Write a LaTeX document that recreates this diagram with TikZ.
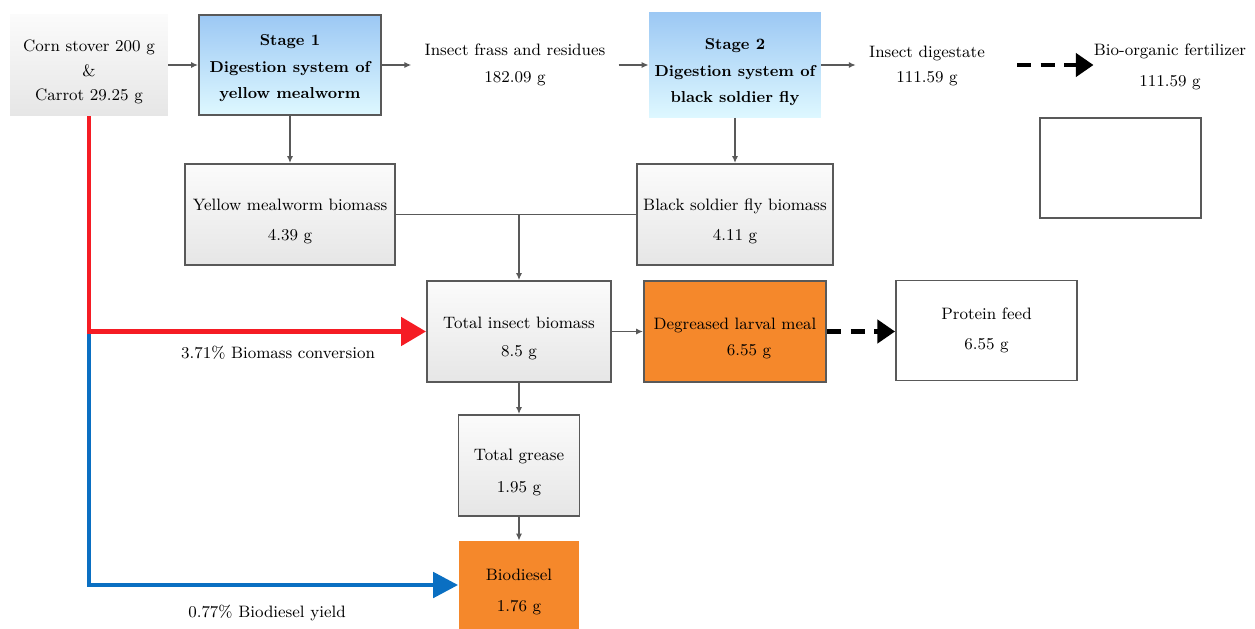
\documentclass[tikz,border=0pt]{standalone}
\usepackage{fontspec}
\usetikzlibrary{arrows.meta}
\definecolor{edgegray}{HTML}{595959}
\definecolor{graytop}{HTML}{FBFBFB}
\definecolor{graybot}{HTML}{E6E6E6}
\definecolor{bluetop}{HTML}{9CC8F4}
\definecolor{bluebot}{HTML}{DEF8FF}
\definecolor{orangefill}{HTML}{F5882B}
\definecolor{redline}{HTML}{F51C24}
\definecolor{blueline}{HTML}{0A6FC2}
\newcommand{\dnstrut}{\rule{0pt}{14.5pt}}
\newcommand{\smstrut}{\rule{0pt}{10pt}}
\begin{document}
\begin{tikzpicture}[x=0.02cm,y=-0.02cm,
  txt/.style={align=center,font=\fontsize{9.4}{17}\selectfont,inner sep=0pt},
  graybox/.style={txt,draw=edgegray,line width=1.1pt,top color=graytop,bottom color=graybot,minimum height=2.02cm},
  stagebox/.style={txt,top color=bluetop,bottom color=bluebot,minimum height=2cm,font=\fontsize{9}{15}\selectfont\bfseries},
  orangebox/.style={txt,fill=orangefill,minimum height=2.02cm},
  whitebox/.style={txt,draw=edgegray,line width=1.1pt,fill=white,minimum height=2cm},
  label/.style={txt,inner xsep=0.26cm},
  thin/.style={draw=edgegray,line width=0.9pt,-{Latex[length=4pt,width=3.5pt]}},
  thinline/.style={draw=edgegray,line width=0.9pt},
  bigdash/.style={line width=2.8pt,dash pattern=on 8pt off 5.5pt,-{Triangle[length=10pt,width=13pt]}},
  redarrow/.style={draw=redline,line width=2.8pt,-{Triangle[length=0.5cm,width=0.56cm]},color=redline},
  bluearrow/.style={draw=blueline,line width=2.8pt,-{Triangle[length=0.5cm,width=0.5cm]},color=blueline}
]
\useasboundingbox (0,0) rectangle (1255,629);

% top row
\node[txt,top color=graytop,bottom color=graybot,minimum width=3.16cm,minimum height=2.04cm,font=\fontsize{9.4}{13.8}\selectfont] (corn) at (89,65) {\dnstrut Corn stover 200 g\\\&\\Carrot 29.25 g};
\node[stagebox,draw=edgegray,line width=1.1pt,minimum width=3.64cm] (s1) at (290,65) {\smstrut Stage 1\\Digestion system of\\yellow mealworm};
\node[label,font=\fontsize{9.4}{15}\selectfont] (frass) at (515,65) {Insect frass and residues\\182.09 g};
\node[stagebox,minimum width=3.44cm,minimum height=2.1cm] (s2) at (735,65) {\dnstrut Stage 2\\Digestion system of\\black soldier fly};
\node[label,font=\fontsize{9.4}{14.5}\selectfont] (dig) at (927,66) {Insect digestate\\111.59 g};
\node[txt,font=\fontsize{9.4}{17.6}\selectfont] (fert) at (1170,67) {Bio-organic fertilizer\\111.59 g};
\node[whitebox,minimum width=3.22cm] (empty) at (1120.5,168) {};
\coordinate (fd) at (1017,65);

% second row
\node[graybox,minimum width=4.2cm] (ymw) at (290,214.5) {\dnstrut Yellow mealworm biomass\\4.39 g};
\node[graybox,minimum width=3.92cm] (bsf) at (735,214.5) {\dnstrut Black soldier fly biomass\\4.11 g};
\coordinate (mj) at (519,214.5);

% third row
\node[graybox,minimum width=3.68cm,font=\fontsize{9.4}{16}\selectfont] (tib) at (519,331.5) {\dnstrut Total insect biomass\\8.5 g};
\node[orangebox,draw=edgegray,line width=1.1pt,minimum width=3.64cm,font=\fontsize{9.4}{15}\selectfont] (dlm) at (735,331.5) {\dnstrut Degreased larval meal\\\hspace*{0.56cm}6.55 g};
\node[whitebox,minimum width=3.62cm] (pf) at (986.5,330.5) {Protein feed\\6.55 g};

% lower rows
\node[graybox,minimum width=2.42cm,font=\fontsize{9.4}{18}\selectfont] (tg) at (519,465.5) {\dnstrut Total grease\\1.95 g};
\node[orangebox,minimum width=2.42cm,minimum height=1.76cm,font=\fontsize{9.4}{17.6}\selectfont] (bio) at (519,585) {\dnstrut Biodiesel\\1.76 g};

% connectors
\draw[thin] (corn.east) -- (corn.east -| s1.west);
\draw[thin] (s1.east) -- (s1.east -| frass.west);
\draw[thin] (frass.east |- s2.west) -- (s2.west);
\draw[thin] (s2.east) -- (s2.east -| dig.west);
\draw[bigdash] (fd) -- (fd -| fert.west);
\draw[thin] (s1.south) -- (ymw.north);
\draw[thin] (s2.south) -- (bsf.north);
\draw[thinline] (ymw.east) -- (bsf.west);
\draw[thin] (mj) -- (tib.north);
\draw[thin] (tib.east) -- (dlm.west);
\draw[bigdash] (dlm.east) -- (pf.west |- dlm.east);
\draw[thin] (tib.south) -- (tg.north);
\draw[thin] (tg.south) -- (bio.north);

% coloured flows
\coordinate (jn) at (89,331.5);
\draw[bluearrow] (jn) |- (bio.west);
\draw[redarrow] (corn.south) |- (tib.west);
\node[txt] (lab1) at (278,353) {3.71\% Biomass conversion};
\node[txt] (lab2) at (267,613) {0.77\% Biodiesel yield};
\end{tikzpicture}
\end{document}
